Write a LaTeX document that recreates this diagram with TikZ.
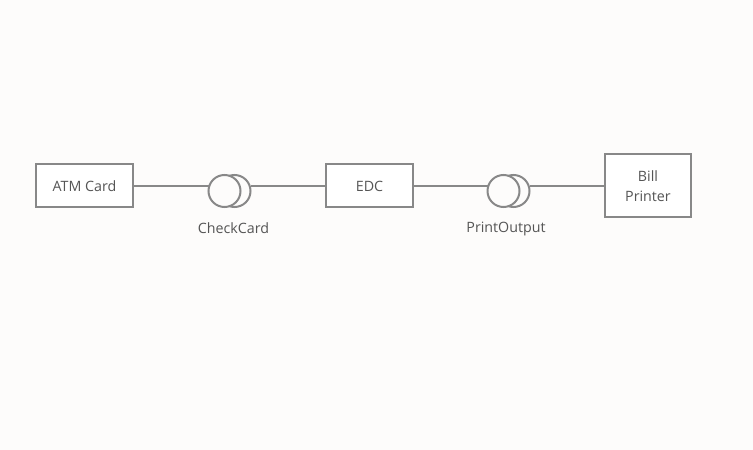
\documentclass[tikz,border=0pt]{standalone}
\usepackage{fontspec}
\setmainfont{Open Sans}
\definecolor{bg}{HTML}{FDFCFB}
\definecolor{stroke}{HTML}{888888}
\definecolor{txt}{HTML}{555555}
\begin{document}
\begin{tikzpicture}[x=1bp,y=-1bp,
  comp/.style={draw=stroke,line width=2bp,fill=white,inner sep=0pt,text=txt,font=\fontsize{14.3}{20}\selectfont,align=center},
  ringc/.style={circle,draw=stroke,line width=2bp,fill=bg,minimum size=32bp,inner sep=0pt},
  lbl/.style={text=txt,font=\fontsize{14.3}{18}\selectfont,inner sep=0pt},
  conn/.style={draw=stroke,line width=2bp}]
\fill[bg] (0,0) rectangle (753,450);
\useasboundingbox (0,0) rectangle (753,450);
% components
\node[comp,minimum width=97bp,minimum height=43bp] (atm) at (84.5,186) {ATM Card};
\node[comp,minimum width=87bp,minimum height=43bp] (edc) at (369.5,186) {EDC};
\node[comp,minimum width=86bp,minimum height=63bp] (bp) at (648,186) {Bill\\Printer};
% interface rings
\node[ringc] (r1b) at (234.5,191) {};
\node[ringc] (r1a) at (224.5,191) {};
\node[ringc] (r2b) at (513.5,191) {};
\node[ringc] (r2a) at (503.5,191) {};
\coordinate (r1l) at (208.5,186);
\coordinate (r1r) at (250.5,186);
\coordinate (r2l) at (487.5,186);
\coordinate (r2r) at (529.5,186);
\node[lbl] (l1) at (233.5,228.5) {CheckCard};
\node[lbl] (l2) at (506,228.5) {PrintOutput};
% connectors
\draw[conn] (atm.east) -- (r1l);
\draw[conn] (r1r) -- (edc.west);
\draw[conn] (edc.east) -- (r2l);
\draw[conn] (r2r) -- (bp.west);
\end{tikzpicture}
\end{document}
